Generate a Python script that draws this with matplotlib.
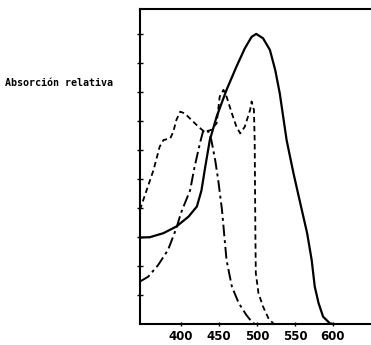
import matplotlib.pyplot as plt

# wavelength (nm) / relative absorption
solid_x = [346, 359, 377, 394, 410, 421, 427, 432, 438, 447, 460, 473, 484, 493, 499,
           508, 517, 524, 530, 539, 548, 557, 566, 572, 576, 581, 587, 596, 600]
solid_y = [2.98, 2.99, 3.13, 3.36, 3.7, 4.05, 4.6, 5.42, 6.34, 7.15, 8.07, 8.87, 9.5, 9.9, 10.0,
           9.85, 9.45, 8.76, 7.95, 6.34, 5.2, 4.16, 3.13, 2.2, 1.29, 0.72, 0.25, 0.02, 0.0]

dashdot_x = [346, 357, 370, 383, 394, 400, 407, 412, 418, 425, 429, 435, 440, 445, 449,
             454, 460, 467, 476, 486, 493, 497]
dashdot_y = [1.46, 1.63, 2.03, 2.55, 3.3, 3.82, 4.28, 4.6, 5.42, 6.23, 6.63, 6.7, 6.34, 5.66, 4.97,
             3.93, 2.2, 1.29, 0.72, 0.31, 0.08, 0.0]

dash_x = [346, 355, 364, 372, 377, 386, 390, 394, 399, 405, 414, 423, 432, 440, 447, 449, 451,
          456, 460, 467, 473, 478, 484, 491, 493, 496, 497, 497.5, 498, 498.5, 502, 508, 515, 522]
dash_y = [3.93, 4.62, 5.31, 6.11, 6.34, 6.4, 6.63, 7.03, 7.32, 7.26, 7.03, 6.8, 6.6, 6.7, 6.92, 7.38, 7.84,
          8.07, 7.84, 7.26, 6.8, 6.57, 6.8, 7.38, 7.67, 7.38, 6.34, 4.62, 2.9, 1.75, 1.06, 0.6, 0.2, 0.0]

xticks = [400, 450, 500, 550, 600]
yticks = [1, 2, 3, 4, 5, 6, 7, 8, 9, 10]

fig = plt.figure(figsize=(3.71, 3.45), dpi=100)
ax = fig.add_axes([0.377, 0.061, 0.623, 0.913])

ax.plot(solid_x, solid_y, color='black', lw=1.6, solid_joinstyle='round')
ax.plot(dashdot_x, dashdot_y, color='black', lw=1.4, linestyle=(0, (6, 2, 1.5, 2)))
ax.plot(dash_x, dash_y, color='black', lw=1.3, linestyle=(0, (3, 2)))

ax.set_xlim(346, 650)
ax.set_ylim(0, 10.86)
ax.set_xticks(xticks)
ax.set_yticks(yticks)
ax.set_yticklabels([])
ax.set_xticklabels([str(t) for t in xticks], fontsize=8.5, fontweight='bold')
ax.tick_params(axis='y', direction='inout', length=5, width=1)
ax.tick_params(axis='x', direction='inout', length=3, width=1, pad=3)
ax.spines['right'].set_visible(False)
for s in ['left', 'bottom', 'top']:
    ax.spines[s].set_linewidth(1.5)

fig.text(0.014, 0.76, 'Absorción relativa', fontsize=7.2, fontweight='bold',
         family='DejaVu Sans Mono', va='center', ha='left')

fig.savefig('out.png', dpi=100)
